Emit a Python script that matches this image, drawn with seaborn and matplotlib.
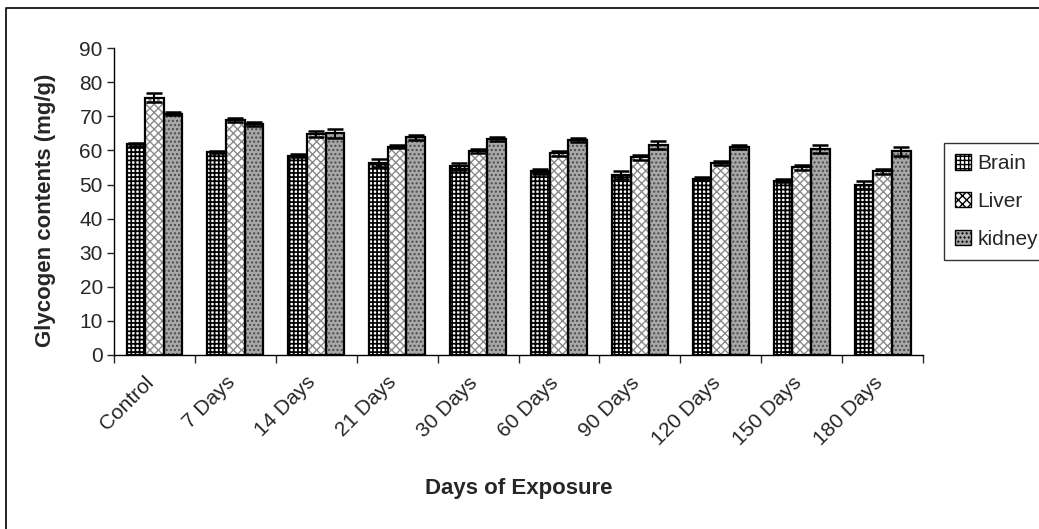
import pandas as pd
import matplotlib
matplotlib.use("Agg")
import matplotlib.pyplot as plt
import matplotlib.transforms as mtransforms
import seaborn as sns
from matplotlib.patches import Patch, Rectangle
from matplotlib.lines import Line2D

# data
days = ["Control", "7 Days", "14 Days", "21 Days", "30 Days",
        "60 Days", "90 Days", "120 Days", "150 Days", "180 Days"]
brain = [61.8, 59.5, 58.5, 56.3, 55.3, 53.9, 52.8, 51.7, 51.1, 49.8]
liver = [75.4, 69.0, 64.7, 61.1, 59.8, 59.1, 58.0, 56.2, 55.0, 53.9]
kidney = [70.8, 67.8, 65.0, 63.9, 63.4, 63.0, 61.6, 61.1, 60.4, 59.8]
brain_err = [0.5, 0.4, 0.5, 1.3, 1.1, 0.7, 1.1, 0.5, 0.5, 1.1]
liver_err = [1.3, 0.6, 0.9, 0.5, 0.6, 0.7, 0.7, 0.6, 0.7, 0.7]
kidney_err = [0.5, 0.5, 1.4, 0.7, 0.5, 0.5, 1.2, 0.6, 1.3, 1.3]
tissues = ["Brain", "Liver", "kidney"]

df = pd.DataFrame({
    "Day": days * 3,
    "Tissue": [t for t in tissues for _ in days],
    "Glycogen": brain + liver + kidney,
})
errs = [brain_err, liver_err, kidney_err]

sns.set_style("white")
plt.rcParams["font.family"] = ["Liberation Sans", "DejaVu Sans"]
plt.rcParams["hatch.linewidth"] = 1.0

fig = plt.figure(figsize=(10.39, 5.29), dpi=100)
ax = fig.add_axes([0.1097, 0.329, 0.7787, 0.58])

sns.barplot(data=df, x="Day", y="Glycogen", hue="Tissue", order=days,
            hue_order=tissues, width=0.69, gap=0, legend=False, ax=ax,
            errorbar=None)

# fill styles: (face, hatch, hatch colour, hatch width)
styles = [("white", "++++", "black", 1.25),
          ("white", "xxxx", "#8a8a8a", 1.0),
          ("#a8a8a8", "....", "#4a4a4a", 1.0)]

for cont, (fc, hatch, hc, hw), err in zip(ax.containers, styles, errs):
    xs, ys = [], []
    for bar in cont:
        bar.set_facecolor(fc)
        bar.set_hatch(hatch)
        bar.set_edgecolor(hc)
        bar.set_linewidth(0)
        if hasattr(bar, "set_hatch_linewidth"):
            bar.set_hatch_linewidth(hw)
        # black outline on top
        ax.add_patch(Rectangle(bar.get_xy(), bar.get_width(), bar.get_height(),
                               fill=False, edgecolor="black", linewidth=1.6, zorder=3))
        xs.append(bar.get_x() + bar.get_width() / 2)
        ys.append(bar.get_height())
    ax.errorbar(xs, ys, yerr=err, fmt="none", ecolor="black", elinewidth=1.5,
                capsize=6, capthick=1.8, zorder=4)

ax.set_ylim(0, 90)
ax.set_xlim(-0.5, len(days) - 0.5)
ax.set_yticks(range(0, 91, 10))
ax.tick_params(axis="y", labelsize=15, length=5, width=1, direction="out", left=True, pad=3)

# ticks between groups, labels at group centres
ax.set_xticks([i - 0.5 for i in range(len(days) + 1)], minor=True)
ax.tick_params(axis="x", which="minor", length=6, width=1, direction="out", bottom=True)
ax.tick_params(axis="x", which="major", length=0, labelsize=15, pad=10)
ax.set_xticklabels(days, rotation=45, ha="right", rotation_mode="anchor")
shift = mtransforms.ScaledTranslation(-0.10, -0.04, fig.dpi_scale_trans)
for lbl in ax.get_xticklabels():
    lbl.set_transform(lbl.get_transform() + shift)

for s in ["top", "right"]:
    ax.spines[s].set_visible(False)
for s in ["left", "bottom"]:
    ax.spines[s].set_color("black")
    ax.spines[s].set_linewidth(1)

ax.set_xlabel("Days of Exposure", fontsize=16, fontweight="bold")
ax.set_ylabel("Glycogen contents (mg/g)", fontsize=16, fontweight="bold")
ax.xaxis.set_label_coords(0.5, -0.4)
ax.yaxis.set_label_coords(-0.072, 0.47)

handles = []
for fc, h, hc, hw in styles:
    p = Patch(facecolor=fc, hatch=h, edgecolor="black", linewidth=1)
    handles.append(p)
leg = fig.legend(handles, tissues, loc="upper left", bbox_to_anchor=(0.9085, 0.73),
                 fontsize=15, frameon=True, fancybox=False, edgecolor="black",
                 handlelength=0.75, handleheight=0.75, handletextpad=0.3,
                 labelspacing=0.9, borderpad=0.55, borderaxespad=0)
leg.get_frame().set_linewidth(1)

# outer chart frame (only top and left edges are inside the cropped picture)
fig.add_artist(Line2D([0.006, 0.006, 1.0], [0.0, 0.984, 0.984], transform=fig.transFigure,
                      color="black", linewidth=1.2))

fig.savefig("out.png", dpi=100)
